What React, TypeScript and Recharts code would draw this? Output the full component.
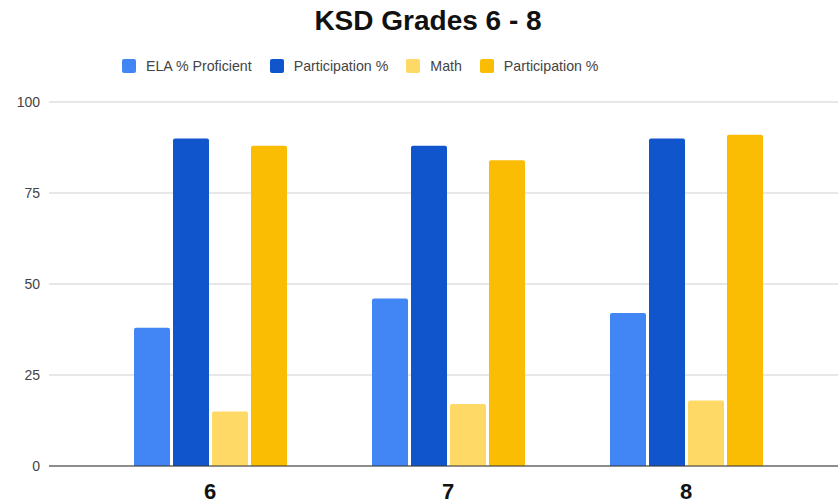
import { Bar, BarChart, CartesianGrid, XAxis, YAxis } from "recharts";

const grades = ["6", "7", "8"];
const elaProficient = [38, 46, 42];
const elaParticipation = [90, 88, 90];
const mathProficient = [15, 17, 18];
const mathParticipation = [88, 84, 91];
const yTicks = [0, 25, 50, 75, 100];

const series = [
  { key: "ela", name: "ELA % Proficient", color: "#4285F4" },
  { key: "elaPart", name: "Participation %", color: "#1155CC" },
  { key: "math", name: "Math", color: "#FFD966" },
  { key: "mathPart", name: "Participation %", color: "#FBBC04" },
];

const data = grades.map((g, i) => ({
  grade: g,
  ela: elaProficient[i],
  elaPart: elaParticipation[i],
  math: mathProficient[i],
  mathPart: mathParticipation[i],
}));

const font = "Arial, 'Liberation Sans', sans-serif";

export default function App() {
  return (
    <div
      style={{
        position: "absolute",
        left: 0,
        top: 0,
        width: 838,
        height: 504,
        background: "#fff",
        fontFamily: font,
      }}
    >
      <div
        style={{
          position: "absolute",
          top: 5,
          left: 0,
          width: 856,
          textAlign: "center",
          fontSize: 28,
          fontWeight: "bold",
          color: "#111",
        }}
      >
        KSD Grades 6 - 8
      </div>
      <div
        style={{
          position: "absolute",
          top: 58,
          left: 122,
          display: "flex",
          alignItems: "center",
          fontSize: 14.2,
          color: "#444",
        }}
      >
        {series.map((s) => (
          <div
            key={s.key}
            style={{ display: "flex", alignItems: "center", marginRight: 18 }}
          >
            <span
              style={{
                width: 14,
                height: 14,
                borderRadius: 2,
                background: s.color,
                marginRight: 10,
                display: "inline-block",
              }}
            />
            <span>{s.name}</span>
          </div>
        ))}
      </div>
      <BarChart
        width={838}
        height={504}
        data={data}
        margin={{ top: 102, right: 0, bottom: 0, left: 0 }}
        barCategoryGap={43}
        barGap={3}
      >
        <CartesianGrid vertical={false} stroke="#d0d0d0" />
        <YAxis
          domain={[0, 100]}
          ticks={yTicks}
          width={49}
          axisLine={false}
          tickLine={false}
          tickSize={0}
          tickMargin={9}
          tick={{ fontSize: 14, fill: "#444", fontFamily: font }}
        />
        <XAxis
          dataKey="grade"
          height={38}
          padding={{ left: 42, right: 33 }}
          axisLine={{ stroke: "#333", strokeWidth: 1 }}
          tickLine={false}
          tickSize={0}
          tickMargin={17}
          tick={{ fontSize: 22, fontWeight: "bold", fill: "#111", fontFamily: font }}
        />
        {series.map((s) => (
          <Bar
            key={s.key}
            dataKey={s.key}
            name={s.name}
            fill={s.color}
            radius={[2, 2, 0, 0]}
            isAnimationActive={false}
          />
        ))}
      </BarChart>
    </div>
  );
}
